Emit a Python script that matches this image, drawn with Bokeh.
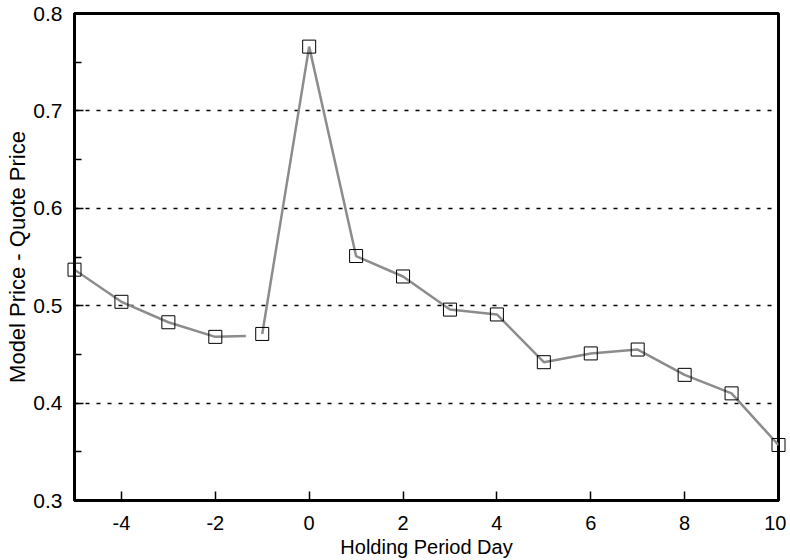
import math
from bokeh.plotting import figure
from bokeh.models import FixedTicker, Range1d, ColumnDataSource
from bokeh.embed import file_html
from bokeh.resources import INLINE

days = [-5, -4, -3, -2, -1, 0, 1, 2, 3, 4, 5, 6, 7, 8, 9, 10]
price_diff = [0.537, 0.504, 0.483, 0.468, 0.471, 0.766, 0.551, 0.530,
              0.496, 0.491, 0.442, 0.451, 0.455, 0.429, 0.410, 0.357]

# the drawn line stops short after day -2 and resumes at day -1
line_x = [-5, -4, -3, -2, -1.35, math.nan, -1, 0, 1, 2, 3, 4, 5, 6, 7, 8, 9, 10]
line_y = [0.537, 0.504, 0.483, 0.468, 0.469, math.nan, 0.471, 0.766, 0.551, 0.530,
          0.496, 0.491, 0.442, 0.451, 0.455, 0.429, 0.410, 0.357]

x_ticks = [-4, -2, 0, 2, 4, 6, 8, 10]
y_ticks = [0.3, 0.4, 0.5, 0.6, 0.7, 0.8]
y_minor = [0.35, 0.45, 0.55, 0.65, 0.75]
grid_levels = [0.4, 0.5, 0.6, 0.7]

FONT = "Liberation Sans"

p = figure(width=786, height=560, output_backend="svg", toolbar_location=None,
           x_range=Range1d(-5, 10), y_range=Range1d(0.3, 0.8),
           min_border_left=74, min_border_right=8, min_border_top=13, min_border_bottom=57)

p.background_fill_color = "white"
p.border_fill_color = "white"
p.outline_line_color = "black"
p.outline_line_width = 3

p.xgrid.visible = False
p.ygrid.ticker = FixedTicker(ticks=grid_levels)
p.ygrid.grid_line_color = "black"
p.ygrid.grid_line_width = 1.5
p.ygrid.grid_line_dash = "4 7"

p.xaxis.ticker = FixedTicker(ticks=x_ticks)
p.yaxis.ticker = FixedTicker(ticks=y_ticks, minor_ticks=y_minor)
p.xaxis.major_label_overrides = {t: str(t) for t in x_ticks}

for ax in (p.xaxis, p.yaxis):
    ax.axis_line_width = 3
    ax.axis_line_color = "black"
    ax.major_tick_in = 9
    ax.major_tick_out = 0
    ax.major_tick_line_width = 1.5
    ax.minor_tick_in = 7
    ax.minor_tick_out = 0
    ax.minor_tick_line_width = 1.5
    ax.major_label_text_font = FONT
    ax.major_label_text_color = "black"
    ax.axis_label_text_font = FONT
    ax.axis_label_text_font_style = "normal"
    ax.axis_label_text_color = "black"

p.xaxis.minor_tick_line_color = None
p.xaxis.major_label_text_font_size = "20px"
p.xaxis.major_label_standoff = 15
p.xaxis.axis_label = "Holding Period Day"
p.xaxis.axis_label_text_font_size = "20px"
p.xaxis.axis_label_standoff = 3

p.yaxis.major_label_text_font_size = "21px"
p.yaxis.major_label_standoff = 12
p.yaxis.axis_label = "Model Price - Quote Price"
p.yaxis.axis_label_text_font_size = "22px"
p.yaxis.axis_label_standoff = 0

p.line(line_x, line_y, line_color="#8c8c8c", line_width=2.5)
src = ColumnDataSource(dict(x=days, y=price_diff))
r = p.scatter("x", "y", source=src, marker="square", size=13,
              fill_color=None, line_color="black", line_width=1)
r.level = "overlay"

open("out.html", "w").write(file_html(p, INLINE))
